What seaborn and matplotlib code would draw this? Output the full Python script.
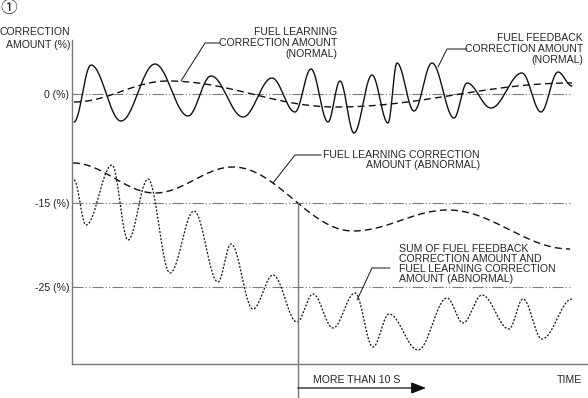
import numpy as np
import pandas as pd
import matplotlib.pyplot as plt
import seaborn as sns

# Schematic chart: values (time / correction level in drawing units,
# level axis points downwards like the original sketch)
fb_normal_t = [74, 91, 121, 155, 188, 211, 243, 272, 295, 311, 328, 340, 354, 372, 388, 397,
               414, 432, 454, 467, 491, 522, 541, 558, 572]
fb_normal_v = [122, 65, 121, 64, 116, 76, 117, 78, 112, 69, 122, 81, 133, 75, 123, 63,
               111, 63, 118, 83, 108, 73, 112, 72, 86]

learn_normal_t = [74, 168, 336, 572]
learn_normal_v = [102, 81, 107, 83]

learn_abn_t = [73, 155, 233, 353, 448, 570]
learn_abn_v = [163, 193, 167, 231, 210, 249]

sum_abn_t = [74, 86, 112, 128, 148, 170, 194, 218, 231, 253, 273, 297, 313, 333, 355, 373,
             389, 418, 447, 463, 482, 509, 523, 542, 572]
sum_abn_v = [180, 225, 165, 240, 179, 273, 211, 282, 244, 309, 275, 322, 294, 328, 293, 347,
             314, 350, 298, 323, 295, 329, 299, 339, 299]

ref_levels = [94, 203, 287]
ref_labels = ["0 (%)", "-15 (%)", "-25 (%)"]
t_10s = 298

GREY = "#7a7a7a"
INK = "#111111"


def smooth(ts, vs, n=30):
    """Join the read extrema with half-cosine arcs so the curve looks like the sketch."""
    xs, ys = [], []
    for (t0, v0), (t1, v1) in zip(zip(ts[:-1], vs[:-1]), zip(ts[1:], vs[1:])):
        s = np.linspace(0, 1, n, endpoint=False)
        xs.extend(t0 + (t1 - t0) * s)
        ys.extend(v0 + (v1 - v0) * (1 - np.cos(np.pi * s)) / 2)
    xs.append(ts[-1])
    ys.append(vs[-1])
    return pd.DataFrame({"t": xs, "v": ys})


sns.set_style("white")
plt.rcParams["font.family"] = ["Liberation Sans", "DejaVu Sans"]

fig = plt.figure(figsize=(5.88, 3.98), dpi=100)
W, H = 588, 398
ax = fig.add_axes([72 / W, (H - 364) / H, (W - 72) / W, (364 - 40) / H])
ax.set_xlim(72, 588)
ax.set_ylim(364, 40)

for s in ["top", "right"]:
    ax.spines[s].set_visible(False)
for s in ["left", "bottom"]:
    ax.spines[s].set_color(GREY)
    ax.spines[s].set_linewidth(1.0)

fs = 7.6
ax.set_xticks([])
ax.set_yticks(ref_levels)
ax.set_yticklabels(ref_labels, fontsize=fs, color="#222222")
ax.tick_params(axis="y", length=0, pad=2)

# reference levels
for lvl in ref_levels:
    ax.plot([72, 572], [lvl, lvl], color=GREY, lw=0.8, linestyle=(0, (10, 2, 1, 2, 1, 2)))

sns.lineplot(data=smooth(fb_normal_t, fb_normal_v), x="t", y="v", ax=ax, sort=False,
             estimator=None, color=INK, lw=1.0)
sns.lineplot(data=smooth(learn_normal_t, learn_normal_v), x="t", y="v", ax=ax,
             sort=False, estimator=None, color=INK, lw=1.0)
ax.lines[-1].set_linestyle((0, (5, 3)))
sns.lineplot(data=smooth(learn_abn_t, learn_abn_v), x="t", y="v", ax=ax, sort=False,
             estimator=None, color=INK, lw=1.0)
ax.lines[-1].set_linestyle((0, (5, 3)))
sns.lineplot(data=smooth(sum_abn_t, sum_abn_v), x="t", y="v", ax=ax, sort=False,
             estimator=None, color=INK, lw=0.9)
ax.lines[-1].set_linestyle((0, (1.6, 1.3)))
ax.set_xlabel("")
ax.set_ylabel("")

# 10 s marker and arrow
ax.plot([t_10s, t_10s], [203, 400], color=GREY, lw=1.0, clip_on=False)
ax.annotate("", xy=(426, 388), xytext=(t_10s, 388), annotation_clip=False,
            arrowprops=dict(arrowstyle="-|>,head_length=0.9,head_width=0.35",
                            color=INK, lw=0.9, shrinkA=0, shrinkB=0))
ax.text(313, 380, "MORE THAN 10 S", fontsize=fs, va="center", ha="left", clip_on=False)
ax.text(582, 380, "TIME", fontsize=fs, va="center", ha="right", clip_on=False)

# axis title
ax.text(70, 32, "CORRECTION", fontsize=fs, ha="right", va="center", clip_on=False)
ax.text(70, 45, "AMOUNT (%)", fontsize=fs, ha="right", va="center", clip_on=False)
ax.text(9, 8, "①", fontsize=12, ha="center", va="center", clip_on=False,
        family=["Noto Sans CJK JP", "DejaVu Sans"])

# callouts
ax.text(337, 43, "FUEL LEARNING\nCORRECTION AMOUNT\n(NORMAL)", fontsize=fs, ha="right",
        va="center", linespacing=1.12, clip_on=False)
ax.plot([220, 205, 181], [43, 43, 81], color=INK, lw=0.7)

ax.text(583, 49, "FUEL FEEDBACK\nCORRECTION AMOUNT\n(NORMAL)", fontsize=fs, ha="right",
        va="center", linespacing=1.12, clip_on=False)
ax.plot([467, 447, 438], [49, 49, 67], color=INK, lw=0.7)

ax.text(480, 160, "FUEL LEARNING CORRECTION\nAMOUNT (ABNORMAL)", fontsize=fs,
        ha="right", va="center", linespacing=1.0, clip_on=False)
ax.plot([273, 295, 321], [183, 155, 155], color=INK, lw=0.7)

ax.text(399, 264, "SUM OF FUEL FEEDBACK\nCORRECTION AMOUNT AND\nFUEL LEARNING CORRECTION\nAMOUNT (ABNORMAL)",
        fontsize=fs, ha="left", va="center", linespacing=1.0, clip_on=False)
ax.plot([357, 372, 390], [300, 268, 268], color=INK, lw=0.7)

fig.savefig("out.png", dpi=100)
